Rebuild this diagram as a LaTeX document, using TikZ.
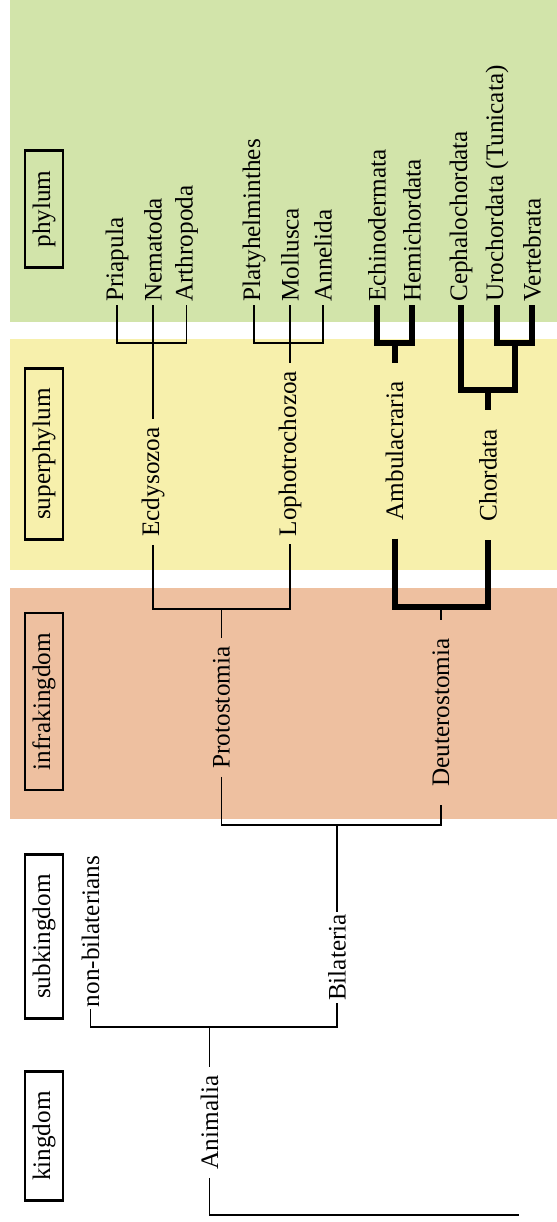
\documentclass[tikz,border=0pt]{standalone}
\usepackage{fontspec}
\setmainfont{Liberation Serif}

\definecolor{phylumbg}{RGB}{210,228,170}
\definecolor{superbg}{RGB}{247,240,172}
\definecolor{infrabg}{RGB}{238,192,160}

\begin{document}
\begin{tikzpicture}[
    x=0.5pt, y=-0.5pt,
    font=\fontsize{12.6pt}{15pt}\selectfont,
    rank/.style={rectangle, draw, line width=1.4pt, rotate=90, minimum height=19pt, inner xsep=10pt, inner ysep=0pt},
    leaf/.style={rotate=90, anchor=west, inner xsep=1.5pt, inner ysep=0pt},
    taxon/.style={rotate=90, inner xsep=4pt, inner ysep=0pt},
    bigtaxon/.style={rotate=90, inner xsep=9pt, inner ysep=0pt},
    branch/.style={line width=0.85pt},
    thickbranch/.style={line width=3pt}
]

\useasboundingbox (0,0) rectangle (557,1222);

\fill[phylumbg] (10,0) rectangle (557,322);
\fill[superbg] (10,339) rectangle (557,570);
\fill[infrabg] (10,588) rectangle (557,819);

\node[rank] (phylum) at (44,209) {phylum};
\node[rank] (superphylum) at (44,454) {superphylum};
\node[rank] (infrakingdom) at (44,701.5) {infrakingdom};
\node[rank] (subkingdom) at (44,936.5) {subkingdom};
\node[rank] (kingdom) at (44,1136) {kingdom};

\node[leaf] (Pri) at (117,305) {Priapula};
\node[leaf] (Nem) at (153,305) {Nematoda};
\node[leaf] (Art) at (186.5,305) {Arthropoda};
\node[leaf] (Pla) at (254,305) {Platyhelminthes};
\node[leaf] (Mol) at (290,305) {Mollusca};
\node[leaf] (Ann) at (323,305) {Annelida};
\node[leaf] (Ech) at (377,305) {Echinodermata};
\node[leaf] (Hem) at (412,305) {Hemichordata};
\node[leaf] (Cep) at (461,305) {Cephalochordata};
\node[leaf] (Uro) at (497,305) {Urochordata (Tunicata)};
\node[leaf] (Ver) at (532,305) {Vertebrata};

\node[taxon] (Ecd) at (153,482) {Ecdysozoa};
\node[taxon] (Lop) at (290,453.5) {Lophotrochozoa};
\node[bigtaxon] (Amb) at (394.5,451) {Ambulacraria};
\node[bigtaxon] (Cho) at (488,475) {Chordata};
\node[taxon] (Pro) at (221.5,707.5) {Protostomia};
\node[bigtaxon] (Deu) at (441,712.5) {Deuterostomia};
\node[taxon, inner xsep=1pt] (Bil) at (337,957.5) {Bilateria};
\node[taxon, inner xsep=1pt] (Non) at (90.5,931.5) {non-bilaterians};
\node[taxon] (Ani) at (209.5,1122.5) {Animalia};

\coordinate (jEcd) at (153,343);
\coordinate (jLop) at (290,343);
\coordinate (jAmb) at (394.5,343);
\coordinate (jUV) at (514.5,343);
\coordinate (jCho) at (488,390);
\coordinate (jPro) at (221.5,609);
\coordinate (jDeu) at (441,607);
\coordinate (jBil) at (337,825);
\coordinate (jAni) at (209.5,1027);
\coordinate (root) at (518.5,1215);

\draw[branch] (Pri.west) |- (jEcd) -| (Art.west);
\draw[branch] (Nem.west) -- (Ecd.east);
\draw[branch] (Pla.west) |- (jLop) -| (Ann.west);
\draw[branch] (Mol.west) -- (Lop.east);

\draw[thickbranch] (Ech.west) |- (jAmb) -| (Hem.west);
\draw[thickbranch] (jAmb) -- (Amb.east);
\draw[thickbranch] (Uro.west) |- (jUV) -| (Ver.west);
\draw[thickbranch] (Cep.west) |- (jCho) -| (jUV);
\draw[thickbranch] (jCho) -- (Cho.east);

\draw[branch] (Ecd.west) |- (jPro) -| (Lop.west);
\draw[branch] (jPro) -- (Pro.east);
\draw[thickbranch] (Amb.west) |- (jDeu) -| (Cho.west);
\draw[branch] (jDeu) -- (Deu.east);

\draw[branch] (Pro.west) |- (jBil) -| (Deu.west);
\draw[branch] (jBil) -- (Bil.east);
\draw[branch] (Non.west) |- (jAni) -| (Bil.west);
\draw[branch] (jAni) -- (Ani.east);
\draw[branch] (Ani.west) |- (root);

\end{tikzpicture}
\end{document}
